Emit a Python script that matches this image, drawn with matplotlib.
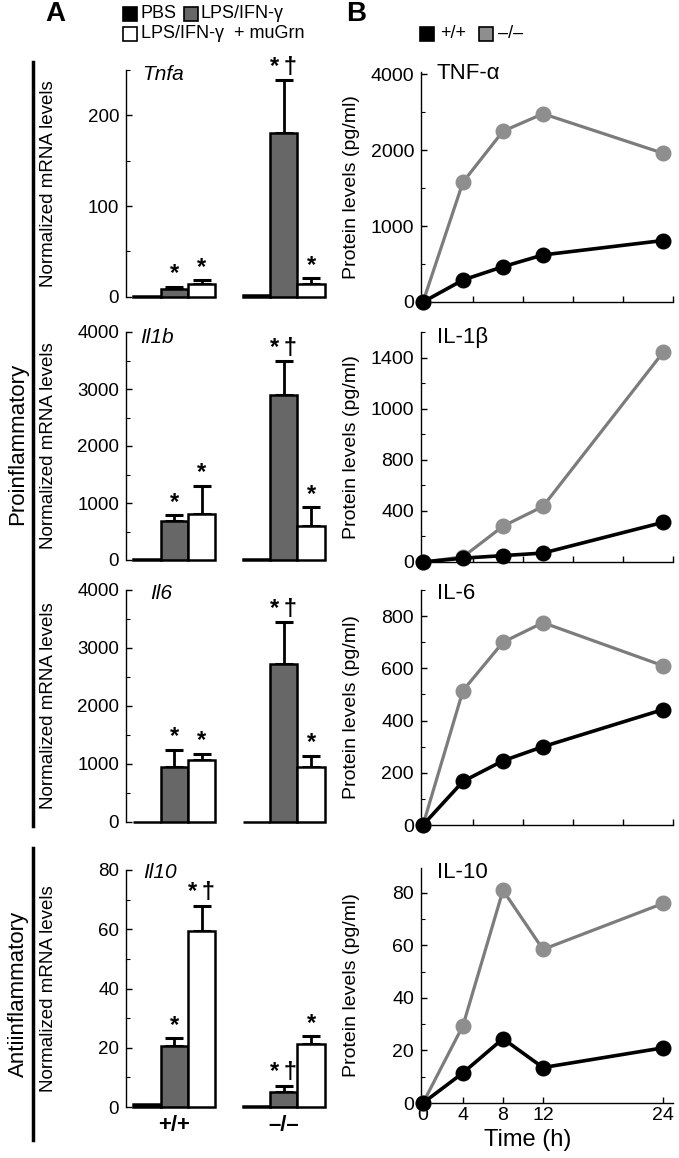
import matplotlib
matplotlib.use("Agg")
import matplotlib.pyplot as plt
from matplotlib.patches import Rectangle
from matplotlib.lines import Line2D
from matplotlib.ticker import MultipleLocator

plt.rcParams["font.family"] = ["Liberation Sans", "DejaVu Sans"]

W, H = 679, 1158

# ---- panel A data: PBS, LPS/IFN-g, LPS/IFN-g + muGrn (wt group, then ko group)
genes = ["Tnfa", "Il1b", "Il6", "Il10"]
mrna_wt = [[1, 8, 13.5], [10, 690, 810], [5, 950, 1070], [1, 20.5, 59.5]]
mrna_wt_err = [[0, 3, 5], [0, 100, 490], [0, 300, 110], [0, 2.8, 8.5]]
mrna_ko = [[1.5, 181, 13.5], [10, 2890, 590], [5, 2730, 940], [0.3, 5.2, 21.3]]
mrna_ko_err = [[0, 58, 7], [0, 600, 340], [0, 720, 200], [0, 2, 2.5]]
stars_wt = [["", "*", "*"], ["", "*", "*"], ["", "*", "*"], ["", "*", "*\u2009†"]]
stars_ko = [["", "*\u2009†", "*"], ["", "*\u2009†", "*"], ["", "*\u2009†", "*"], ["", "*\u2009†", "*"]]
mrna_ylim = [250, 4000, 4000, 80]
mrna_major = [100, 1000, 1000, 20]
mrna_minor = [50, 500, 500, 10]
genotypes = ["+/+", "–/–"]
conditions = ["PBS", "LPS/IFN-γ", "LPS/IFN-γ  + muGrn"]

# ---- panel B data: protein over time
time_h = [0, 4, 8, 12, 24]
proteins = ["TNF-α", "IL-1β", "IL-6", "IL-10"]
prot_wt = [[0, 290, 465, 620, 810],
           [0, 30, 50, 70, 310],
           [0, 167, 246, 300, 442],
           [0, 11.5, 24.5, 13.5, 21]]
prot_ko = [[0, 1580, 2250, 2480, 1960],
           [0, 40, 280, 435, 1640],
           [0, 515, 700, 775, 610],
           [0, 29.5, 81, 58.5, 76]]
prot_ylim = [3030, 1800, 900, 89.5]
prot_ticks = [[0, 1000, 2000, 3000], [0, 400, 800, 1200, 1600],
              [0, 200, 400, 600, 800], [0, 20, 40, 60, 80]]
prot_ticklabels = [["0", "1000", "2000", "4000"], ["0", "400", "800", "1000", "1400"],
                   ["0", "200", "400", "600", "800"], ["0", "20", "40", "60", "80"]]
prot_minor = [500, 200, 100, 10]

bar_colors = ["black", "#676767", "white"]
gray = "#7c7c7c"


def px_axes(fig, left, top, right, bottom):
    return fig.add_axes([left / W, 1 - bottom / H, (right - left) / W, (bottom - top) / H])


fig = plt.figure(figsize=(W / 100, H / 100), dpi=100)

left_rows = [(70, 296.7), (332, 560), (590, 822), (870, 1107)]
right_rows = [(72, 302), (332, 562), (590, 825), (868, 1103)]
title_pos_l = [(0.078, 0.978), (0.07, 0.978), (0.118, 0.985), (0.083, 0.99)]
title_pos_r = [(0.063, 0.995), (0.063, 0.975), (0.063, 0.985), (0.063, 0.98)]

for i in range(4):
    # --- A: bars
    ax = px_axes(fig, 126, left_rows[i][0], 330, left_rows[i][1])
    for g, (vals, errs, stars) in enumerate([(mrna_wt[i], mrna_wt_err[i], stars_wt[i]),
                                             (mrna_ko[i], mrna_ko_err[i], stars_ko[i])]):
        xs = [g * 4 + k for k in range(3)]
        ax.bar(xs, vals, width=1.0, color=bar_colors, edgecolor="black",
               linewidth=1.8, clip_on=False, zorder=3)
        ax.errorbar(xs[1:], vals[1:], yerr=[[0, 0], errs[1:]], fmt="none",
                    ecolor="black", elinewidth=2, capsize=6.5, capthick=2.2, zorder=2,
                    clip_on=False)
        for k in range(3):
            if stars[k]:
                ax.annotate(stars[k], (xs[k], vals[k] + errs[k]), xytext=(0, 1),
                            textcoords="offset points", ha="center", va="bottom",
                            fontsize=17, fontweight="bold")
    ax.set_xlim(-0.76, 6.69)
    ax.set_ylim(0, mrna_ylim[i])
    ax.yaxis.set_major_locator(MultipleLocator(mrna_major[i]))
    ax.yaxis.set_minor_locator(MultipleLocator(mrna_minor[i]))
    ax.tick_params(axis="y", which="major", direction="in", length=4, width=1, labelsize=13.5, pad=5)
    ax.tick_params(axis="y", which="minor", direction="in", length=3, width=0.8)
    for s in ["top", "right", "bottom"]:
        ax.spines[s].set_visible(False)
    ax.spines["left"].set_linewidth(1)
    ax.set_ylabel("Normalized mRNA levels", fontsize=13.5)
    ax.yaxis.set_label_coords(-0.338, 0.5)
    ax.text(title_pos_l[i][0], title_pos_l[i][1], genes[i], transform=ax.transAxes,
            fontsize=15, style="italic", ha="left", va="center")
    if i == 3:
        ax.set_xticks([1, 5])
        ax.set_xticklabels(genotypes, fontsize=16, fontweight="bold")
        ax.tick_params(axis="x", length=0, pad=6)
    else:
        ax.set_xticks([])
    ax.patch.set_visible(False)

    # --- B: time courses
    bx = px_axes(fig, 421, right_rows[i][0], 673, right_rows[i][1])
    bx.plot(time_h, prot_ko[i], color=gray, lw=2.3, marker="o", ms=10.5,
            mfc="#8e8e8e", mec="#8e8e8e", clip_on=False, zorder=3)
    bx.plot(time_h, prot_wt[i], color="black", lw=2.6, marker="o", ms=10.5,
            mfc="black", mec="black", clip_on=False, zorder=4)
    bx.set_xlim(-0.2, 25)
    bx.set_ylim(0, prot_ylim[i])
    bx.set_yticks(prot_ticks[i])
    bx.set_yticklabels(prot_ticklabels[i])
    bx.yaxis.set_minor_locator(MultipleLocator(prot_minor[i]))
    bx.tick_params(axis="y", which="major", direction="in", length=4, width=1, labelsize=14, pad=5)
    bx.tick_params(axis="y", which="minor", direction="in", length=3, width=0.8)
    for s in ["top", "right"]:
        bx.spines[s].set_visible(False)
    bx.spines["left"].set_linewidth(1)
    bx.spines["bottom"].set_linewidth(1)
    bx.set_ylabel("Protein levels (pg/ml)", fontsize=14)
    bx.yaxis.set_label_coords(-0.242, 0.5)
    bx.text(title_pos_r[i][0], title_pos_r[i][1], proteins[i], transform=bx.transAxes,
            fontsize=16, ha="left", va="center")
    if i == 3:
        bx.set_xticks(time_h)
        bx.tick_params(axis="x", direction="in", length=4, width=1, labelsize=14, pad=3)
        bx.set_xlabel("Time (h)", fontsize=17, va="center")
        bx.xaxis.set_label_coords(0.425, -0.157)
    else:
        bx.set_xticks([5, 10, 15, 20, 25])
        bx.set_xticklabels([])
        bx.tick_params(axis="x", direction="in", length=4, width=1)
    bx.patch.set_visible(False)


def fx(x):
    return x / W


def fy(y):
    return 1 - y / H


def square(x, y, color):
    fig.patches.append(Rectangle((fx(x), fy(y + 14)), 14 / W, 14 / H, facecolor=color,
                                 edgecolor="black", linewidth=1.2,
                                 transform=fig.transFigure, figure=fig))


# panel letters
fig.text(fx(55), fy(14), "A", fontsize=20, fontweight="bold", ha="center", va="center")
fig.text(fx(356), fy(14), "B", fontsize=20, fontweight="bold", ha="center", va="center")

# legend A
square(123, 7, bar_colors[0])
fig.text(fx(141), fy(14), conditions[0], fontsize=13, va="center")
square(184, 7, bar_colors[1])
fig.text(fx(201), fy(14), conditions[1], fontsize=13, va="center")
square(123, 27, bar_colors[2])
fig.text(fx(141), fy(34), conditions[2], fontsize=13, va="center")

# legend B
square(420, 27, "black")
fig.text(fx(440), fy(34), genotypes[0], fontsize=13, va="center")
square(479, 27, "#8e8e8e")
fig.text(fx(498), fy(34), genotypes[1], fontsize=13, va="center")

# side brackets
fig.lines.append(Line2D([fx(33), fx(33)], [fy(62), fy(826)], color="black", lw=2.5,
                        transform=fig.transFigure))
fig.lines.append(Line2D([fx(33), fx(33)], [fy(848), fy(1140)], color="black", lw=2.5,
                        transform=fig.transFigure))
fig.text(fx(18), fy(444), "Proinflammatory", fontsize=16, rotation=90, ha="center", va="center")
fig.text(fx(18), fy(994), "Antiinflammatory", fontsize=16, rotation=90, ha="center", va="center")

fig.savefig("out.png", dpi=100)
